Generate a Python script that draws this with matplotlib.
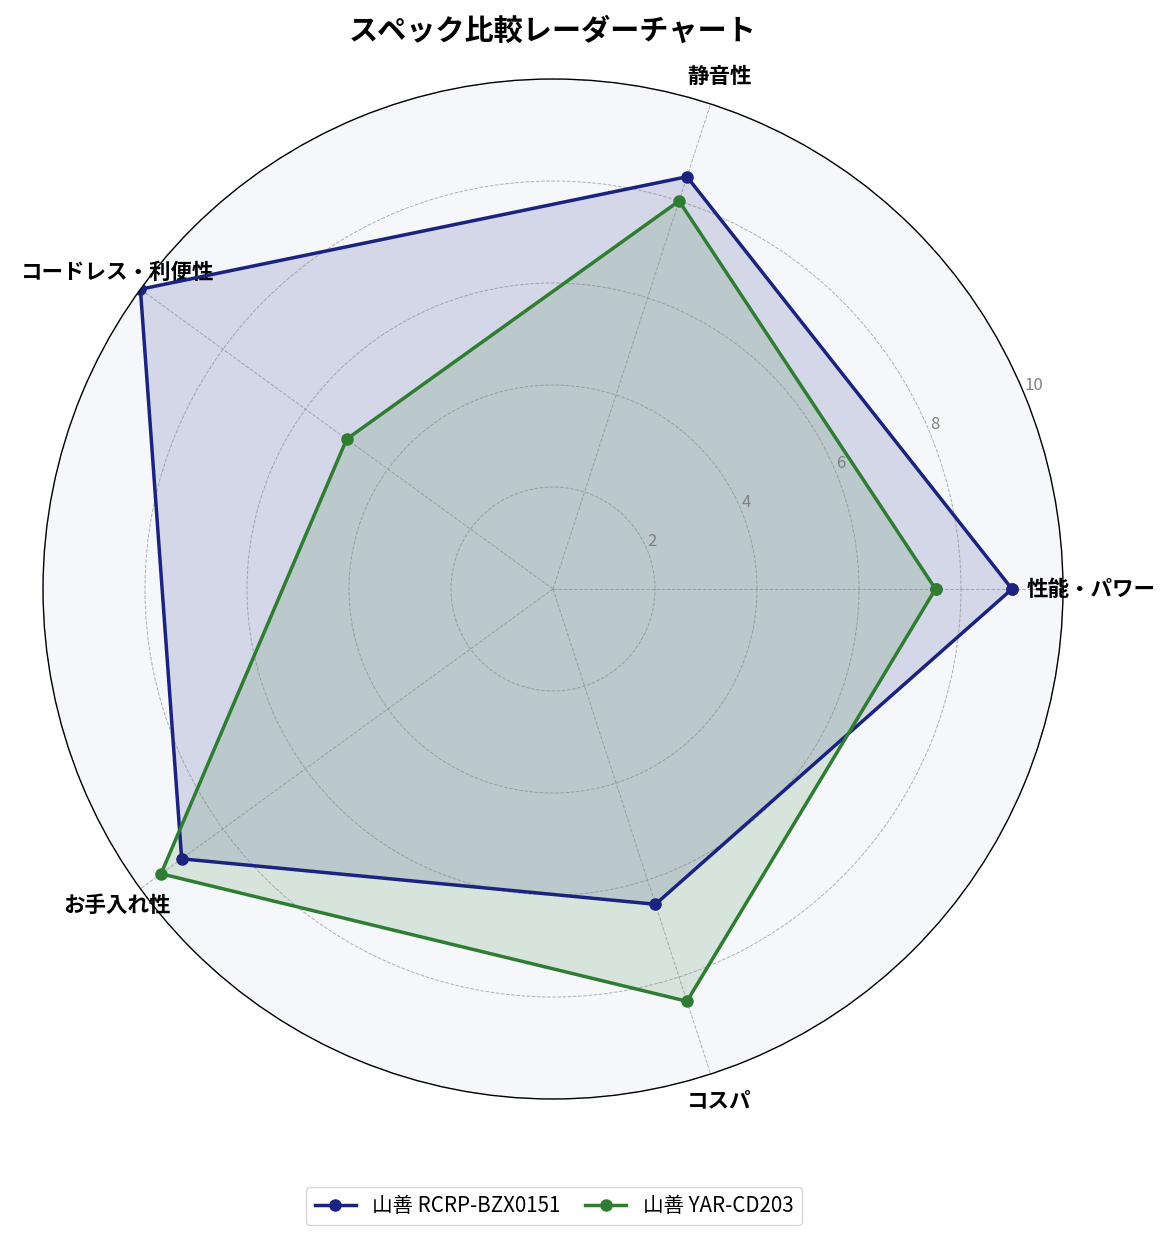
import numpy as np
import matplotlib
matplotlib.use("Agg")
import matplotlib.pyplot as plt

plt.rcParams['font.family'] = ['Noto Sans CJK JP', 'DejaVu Sans']

categories = ['性能・パワー', '静音性', 'コードレス・利便性', 'お手入れ性', 'コスパ']
series_names = ['山善 RCRP-BZX0151', '山善 YAR-CD203']
values_a = [9.0, 8.5, 10.0, 9.0, 6.5]
values_b = [7.5, 8.0, 5.0, 9.5, 8.5]
colors = ['#1A237E', '#2E7D32']
rticks = [2, 4, 6, 8, 10]

fig = plt.figure(figsize=(11.76, 12.39), dpi=100)
ax = fig.add_axes([43/1176, 1 - 1099/1239, 1020/1176, 1020/1239], projection='polar')
ax.set_facecolor('#F5F7FA')

n = len(categories)
angles = np.linspace(0, 2*np.pi, n, endpoint=False).tolist()
angles_closed = angles + angles[:1]

for vals, name, c in zip([values_a, values_b], series_names, colors):
    v = list(vals) + [vals[0]]
    ax.plot(angles_closed, v, color=c, linewidth=2.5, marker='o', markersize=8, label=name)
    ax.fill(angles_closed, v, color=c, alpha=0.15)

ax.set_ylim(0, 10)
ax.set_yticks(rticks)
ax.set_yticklabels([str(t) for t in rticks], color='gray', fontsize=12)
ax.set_rlabel_position(22.5)
ax.set_xticks(angles)
ax.set_xticklabels(categories, fontsize=15.5, fontweight='bold')
ax.tick_params(axis='x', pad=10)
ax.grid(color='gray', linestyle='--', linewidth=0.7, alpha=0.6)
ax.spines['polar'].set_color('black')
ax.spines['polar'].set_linewidth(1.0)

fig.text(553/1176, 1 - 31/1239, 'スペック比較レーダーチャート', fontsize=21, fontweight='bold',
         ha='center', va='center')
fig.legend(loc='center', bbox_to_anchor=(554/1176, 1 - 1206/1239), ncol=2, fontsize=14.8,
           frameon=True, columnspacing=1.2)

fig.savefig('out.png', dpi=100)
